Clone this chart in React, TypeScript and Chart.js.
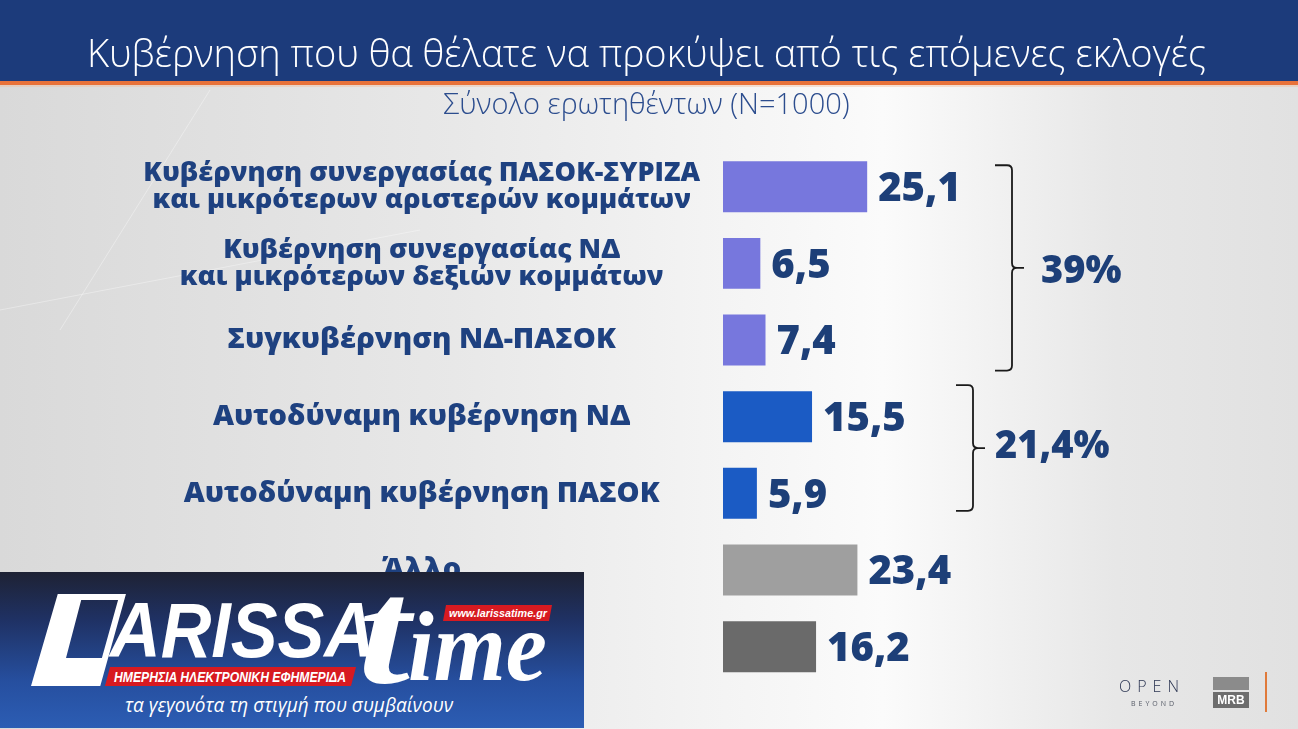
import React, { useEffect, useRef } from 'react';
import { Chart, registerables } from 'chart.js';

Chart.register(...registerables);

// ---------- data ----------
const titleText = 'Κυβέρνηση που θα θέλατε να προκύψει από τις επόμενες εκλογές';
const subtitleText = 'Σύνολο ερωτηθέντων (N=1000)';

const categories: (string | string[])[] = [
  ['Κυβέρνηση συνεργασίας ΠΑΣΟΚ-ΣΥΡΙΖΑ', 'και μικρότερων αριστερών κομμάτων'],
  ['Κυβέρνηση συνεργασίας ΝΔ', 'και μικρότερων δεξιών κομμάτων'],
  'Συγκυβέρνηση ΝΔ-ΠΑΣΟΚ',
  'Αυτοδύναμη κυβέρνηση ΝΔ',
  'Αυτοδύναμη κυβέρνηση ΠΑΣΟΚ',
  'Άλλο',
  'ΔΓ/ΔΑ',
];
const values = [25.1, 6.5, 7.4, 15.5, 5.9, 23.4, 16.2];
const barColors = ['#7777dd', '#7777dd', '#7777dd', '#1b5bc4', '#1b5bc4', '#9f9f9f', '#6a6a6a'];

const groupRanges = [
  [0, 2],
  [3, 4],
];
const groupLabels = ['39%', '21,4%'];

// ---------- styles ----------
const FONT = '"Open Sans", "Noto Sans", sans-serif';
const TEXT_BLUE = '#1e4180';
const VALUE_BLUE = '#1d3f78';
const PAD_LEFT = 53;
const braceStyles = [
  { x: 1012, dyTop: 4, dyBot: 5, labelX: 1041, labelDy: 2 },
  { x: 973, dyTop: -6, dyBot: -8, labelX: 995, labelDy: -4 },
];

const fmt = (v: number) => v.toFixed(1).replace('.', ',');

const backgroundPlugin = {
  id: 'bgPlugin',
  beforeDraw(chart: any) {
    const { ctx, width, height } = chart;
    ctx.save();
    const g = ctx.createLinearGradient(0, 0, width, 0);
    g.addColorStop(0, '#d9d9d9');
    g.addColorStop(0.35, '#e8e8e8');
    g.addColorStop(0.68, '#fbfbfb');
    g.addColorStop(0.86, '#e7e7e7');
    g.addColorStop(1, '#e1e1e1');
    ctx.fillStyle = g;
    ctx.fillRect(0, 0, width, height);
    // faint diagonal streaks
    ctx.strokeStyle = 'rgba(255,255,255,0.35)';
    ctx.lineWidth = 1;
    ctx.beginPath();
    ctx.moveTo(60, 330);
    ctx.lineTo(210, 90);
    ctx.moveTo(0, 310);
    ctx.lineTo(420, 230);
    ctx.stroke();
    // header
    ctx.fillStyle = '#1c3b7b';
    ctx.fillRect(0, 0, width, 81);
    ctx.fillStyle = '#e8723a';
    ctx.fillRect(0, 81, width, 4);
    ctx.fillStyle = 'rgba(240,190,160,0.45)';
    ctx.fillRect(0, 85, width, 2);
    ctx.restore();
  },
};

const annotationPlugin = {
  id: 'annotPlugin',
  afterDatasetsDraw(chart: any) {
    const { ctx } = chart;
    const meta = chart.getDatasetMeta(0);
    ctx.save();
    // value labels
    const vfs = 40;
    ctx.font = `800 ${vfs}px ${FONT}`;
    ctx.fillStyle = VALUE_BLUE;
    ctx.textAlign = 'left';
    ctx.textBaseline = 'alphabetic';
    meta.data.forEach((bar: any, i: number) => {
      ctx.fillText(fmt(values[i]), bar.x + 11, bar.y + vfs * 0.714 / 2);
    });
    // braces
    const gfs = 38;
    groupRanges.forEach((rng, gi) => {
      const st = braceStyles[gi];
      const first = meta.data[rng[0]];
      const last = meta.data[rng[1]];
      const top = first.y - first.height / 2 + st.dyTop;
      const bot = last.y + last.height / 2 + st.dyBot;
      const mid = (top + bot) / 2;
      const X = st.x;
      const r = 5;
      ctx.strokeStyle = '#1a1a1a';
      ctx.lineWidth = 1.8;
      ctx.beginPath();
      ctx.moveTo(X - 17, top);
      ctx.lineTo(X - r, top);
      ctx.quadraticCurveTo(X, top, X, top + r);
      ctx.lineTo(X, mid - r);
      ctx.quadraticCurveTo(X, mid, X + r, mid);
      ctx.lineTo(X + 12, mid);
      ctx.moveTo(X + r, mid);
      ctx.quadraticCurveTo(X, mid, X, mid + r);
      ctx.lineTo(X, bot - r);
      ctx.quadraticCurveTo(X, bot, X - r, bot);
      ctx.lineTo(X - 17, bot);
      ctx.stroke();
      ctx.font = `800 ${gfs}px ${FONT}`;
      ctx.fillStyle = VALUE_BLUE;
      ctx.fillText(groupLabels[gi], st.labelX, mid + st.labelDy + gfs * 0.714 / 2);
    });
    ctx.restore();
  },
};

function ChartCanvas() {
  const ref = useRef<HTMLCanvasElement | null>(null);
  useEffect(() => {
    if (!ref.current) return;
    const chart = new Chart(ref.current, {
      type: 'bar',
      data: {
        labels: categories,
        datasets: [
          {
            data: values,
            backgroundColor: barColors,
            borderWidth: 0,
            barPercentage: 0.665,
            categoryPercentage: 1,
          },
        ],
      },
      options: {
        indexAxis: 'y',
        responsive: true,
        maintainAspectRatio: false,
        animation: false,
        layout: { padding: { left: PAD_LEFT, right: 58, top: 0, bottom: 44 } },
        plugins: {
          legend: { display: false },
          tooltip: { enabled: false },
          title: {
            display: true,
            text: titleText,
            color: '#ffffff',
            font: { family: FONT, size: 38, weight: '300' as any, lineHeight: 1.2 },
            padding: { top: 33, bottom: 10 },
          },
          subtitle: {
            display: true,
            text: subtitleText,
            color: '#2c4d8e',
            font: { family: FONT, size: 29, weight: '300' as any, lineHeight: 1.2 },
            padding: { top: 0, bottom: 25 },
          },
        },
        scales: {
          x: { display: false, min: 0, max: 90 },
          y: {
            grid: { display: false, drawTicks: false },
            border: { display: false },
            ticks: {
              color: TEXT_BLUE,
              font: (c: any) => {
                const multi = Array.isArray(categories[c.index]);
                return {
                  family: FONT,
                  size: multi ? 27 : 29,
                  weight: '800',
                  lineHeight: multi ? 1.0 : 1.1,
                };
              },
              crossAlign: 'center',
              padding: 23,
              autoSkip: false,
            },
            afterFit(scale: any) {
              scale.width = 723 - PAD_LEFT;
              scale.paddingTop = 0;
              scale.paddingBottom = 0;
            },
          },
        },
      } as any,
      plugins: [backgroundPlugin, annotationPlugin],
    });
    return () => chart.destroy();
  }, []);
  return (
    <div style={{ position: 'absolute', left: 0, top: 0, width: 1298, height: 729 }}>
      <canvas ref={ref} />
    </div>
  );
}

function LarissaLogo() {
  return (
    <svg
      width={584}
      height={156}
      style={{ position: 'absolute', left: 0, top: 572 }}
      xmlns="http://www.w3.org/2000/svg"
    >
      <defs>
        <linearGradient id="lgBg" x1="0" y1="0" x2="0" y2="1">
          <stop offset="0" stopColor="#1e2234" />
          <stop offset="0.3" stopColor="#1f3163" />
          <stop offset="0.7" stopColor="#264f9f" />
          <stop offset="1" stopColor="#2c5db4" />
        </linearGradient>
      </defs>
      <rect x={0} y={0} width={584} height={156} fill="url(#lgBg)" />
      <polygon points="60,25 122,25 98,111 35,111" fill="none" stroke="#ffffff" strokeWidth={6} />
      <polygon points="60,25 82,25 66,86 105,86 98,111 35,111" fill="#ffffff" />
      <text
        x={110}
        y={85}
        fill="#ffffff"
        fontFamily='"Liberation Sans", Arial, sans-serif'
        fontWeight="bold"
        fontStyle="italic"
        fontSize={77}
        textLength={265}
        lengthAdjust="spacingAndGlyphs"
      >
        ARISSA
      </text>
      <polygon points="110,95 356,95 351,114 105,114" fill="#d71a21" />
      <text
        x={114}
        y={110}
        fill="#ffffff"
        fontFamily='"Liberation Sans", Arial, sans-serif'
        fontWeight="bold"
        fontStyle="italic"
        fontSize={14}
        textLength={232}
        lengthAdjust="spacingAndGlyphs"
      >
        ΗΜΕΡΗΣΙΑ ΗΛΕΚΤΡΟΝΙΚΗ ΕΦΗΜΕΡΙΔΑ
      </text>
      <text
        x={358}
        y={111}
        fill="#ffffff"
        fontFamily='"Liberation Serif", serif'
        fontWeight="bold"
        fontStyle="italic"
        fontSize={150}
        textLength={52}
        lengthAdjust="spacingAndGlyphs"
      >
        t
      </text>
      <text
        x={408}
        y={108}
        fill="#ffffff"
        fontFamily='"Liberation Serif", serif'
        fontWeight="bold"
        fontStyle="italic"
        fontSize={100}
        textLength={139}
        lengthAdjust="spacingAndGlyphs"
      >
        ime
      </text>
      <polygon points="446,33 552,33 549,49 443,49" fill="#d71a21" />
      <text
        x={449}
        y={45}
        fill="#ffffff"
        fontFamily='"Liberation Sans", Arial, sans-serif'
        fontWeight="bold"
        fontStyle="italic"
        fontSize={11}
        textLength={98}
        lengthAdjust="spacingAndGlyphs"
      >
        www.larissatime.gr
      </text>
      <text
        x={125}
        y={140}
        fill="#ffffff"
        fontFamily='"Open Sans", "Noto Sans", sans-serif'
        fontStyle="italic"
        fontSize={20}
        textLength={328}
        lengthAdjust="spacingAndGlyphs"
      >
        τα γεγονότα τη στιγμή που συμβαίνουν
      </text>
    </svg>
  );
}

function CornerLogos() {
  return (
    <>
      <div
        style={{
          position: 'absolute',
          left: 1119,
          top: 677,
          fontFamily: FONT,
          fontWeight: 300,
          fontSize: 16,
          letterSpacing: 6,
          color: '#2b3552',
          lineHeight: '18px',
        }}
      >
        OPEN
      </div>
      <div
        style={{
          position: 'absolute',
          left: 1131,
          top: 699,
          fontFamily: FONT,
          fontSize: 7,
          letterSpacing: 3,
          color: '#555a66',
          lineHeight: '9px',
        }}
      >
        BEYOND
      </div>
      <div style={{ position: 'absolute', left: 1213, top: 677, width: 36, height: 13, background: '#8b8b8b' }} />
      <div
        style={{
          position: 'absolute',
          left: 1213,
          top: 692,
          width: 36,
          height: 16,
          background: '#6d6d6d',
          color: '#ffffff',
          fontFamily: '"Liberation Sans", Arial, sans-serif',
          fontWeight: 'bold',
          fontSize: 12,
          lineHeight: '16px',
          textAlign: 'center',
        }}
      >
        MRB
      </div>
      <div style={{ position: 'absolute', left: 1265, top: 672, width: 2, height: 40, background: '#e07a3a' }} />
    </>
  );
}

export default function App() {
  return (
    <div
      style={{
        position: 'fixed',
        left: 0,
        top: 0,
        width: 1298,
        height: 729,
        overflow: 'hidden',
        background: '#e5e5e5',
      }}
    >
      <ChartCanvas />
      <LarissaLogo />
      <CornerLogos />
    </div>
  );
}
